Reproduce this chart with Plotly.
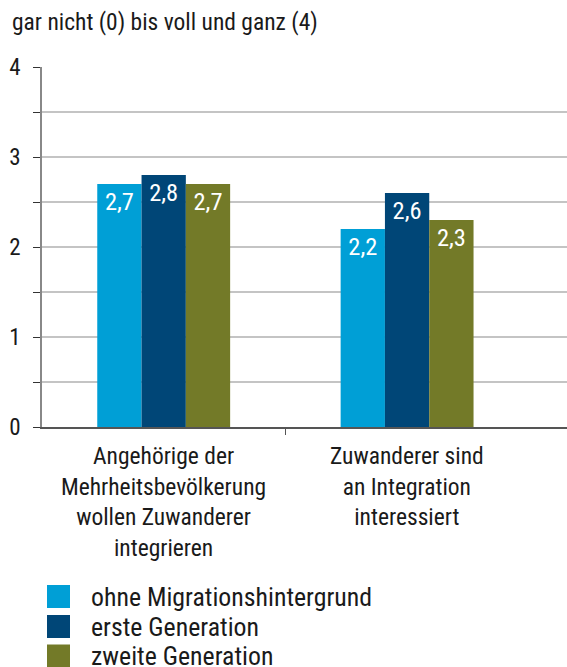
import plotly.graph_objects as go

categories = ["Angehörige der<br>Mehrheitsbevölkerung<br>wollen Zuwanderer<br>integrieren",
              "Zuwanderer sind<br>an Integration<br>interessiert"]
series_names = ["ohne Migrationshintergrund", "erste Generation", "zweite Generation"]
ohne = [2.7, 2.2]
erste = [2.8, 2.6]
zweite = [2.7, 2.3]
series_values = [ohne, erste, zweite]
colors = ["#009FD6", "#004677", "#737A28"]
y_ticks = [0, 1, 2, 3, 4]
y_title = "gar nicht (0) bis voll und ganz (4)"

FONT = "Liberation Sans Narrow, Roboto Condensed, Roboto, sans-serif"

W, H = 567, 667
PL, PT, PB, PR = 42, 67, 427, 567
L, T, B, R = PL, PT, H - PB, W - PR
PW, PH = PR - PL, PB - PT

def px(x):
    return (x - PL) / PW

def py(y):
    return (PB - y) / PH

xpos = list(range(len(categories)))
fig = go.Figure()
for name, vals, col in zip(series_names, series_values, colors):
    fig.add_trace(go.Bar(
        x=xpos, y=vals, name=name, marker=dict(color=col, line=dict(width=0)),
        text=[f"{v:.1f}".replace(".", ",") for v in vals],
        textposition="inside", insidetextanchor="end", textangle=0,
        constraintext="none",
        textfont=dict(color="white", size=24.5, family=FONT),
        showlegend=False, hoverinfo="skip",
    ))

annotations = [dict(text=y_title, xref="paper", yref="paper", x=px(10), y=py(22),
                    xanchor="left", yanchor="middle", showarrow=False,
                    font=dict(size=23.5, family=FONT, color="#1a1a1a"))]
for i, c in enumerate(categories):
    annotations.append(dict(text=c, xref="x", yref="paper", x=i, y=py(440),
                            xanchor="center", yanchor="top", showarrow=False,
                            font=dict(size=23.5, family=FONT, color="#1a1a1a")))
shapes = []
leg_y = [596.5, 626.5, 656]
for name, col, ly in zip(series_names, colors, leg_y):
    shapes.append(dict(type="rect", xref="paper", yref="paper",
                       x0=px(47), x1=px(70), y0=py(ly + 11.5), y1=py(ly - 11.5),
                       fillcolor=col, line=dict(width=0)))
    annotations.append(dict(text=name, xref="paper", yref="paper", x=px(89), y=py(ly),
                            xanchor="left", yanchor="middle", showarrow=False,
                            font=dict(size=25.8, family=FONT, color="#1a1a1a")))

fig.update_layout(
    width=W, height=H, margin=dict(l=L, r=R, t=T, b=B, pad=0, autoexpand=False),
    paper_bgcolor="white", plot_bgcolor="white",
    barmode="group", bargap=0.454, bargroupgap=0,
    font=dict(family=FONT, color="#1a1a1a"),
    annotations=annotations, shapes=shapes, showlegend=False,
)
fig.update_xaxes(
    range=[-0.5, 1.657], tickvals=xpos, ticktext=["", ""], ticks="", showgrid=False,
    showline=True, linecolor="#555555", linewidth=1.5, zeroline=False, automargin=False,
    minor=dict(tickvals=[0.5], ticks="outside", ticklen=6, tickcolor="#555555", tickwidth=1),
)
fig.update_yaxes(
    range=[0, 4], tickvals=y_ticks, ticks="outside", ticklen=7, tickcolor="#333333",
    tickwidth=1.2, tickfont=dict(size=23, family=FONT, color="#1a1a1a"),
    showgrid=True, gridcolor="#c4c4c4", gridwidth=1.5, automargin=False,
    showline=True, linecolor="#888888", linewidth=1.5, zeroline=False,
    minor=dict(tickvals=[0.5, 1.5, 2.5, 3.5], ticks="outside", ticklen=7,
               tickcolor="#333333", tickwidth=1.2, showgrid=True,
               gridcolor="#c4c4c4", gridwidth=1.5),
    ticklabelstandoff=8,
)
fig.write_html("out.html",
               config={"displayModeBar": False},
               post_script=("document.documentElement.style.overflow='hidden';"
                            "document.body.style.margin='0';"
                            "document.body.style.overflow='hidden';"))
